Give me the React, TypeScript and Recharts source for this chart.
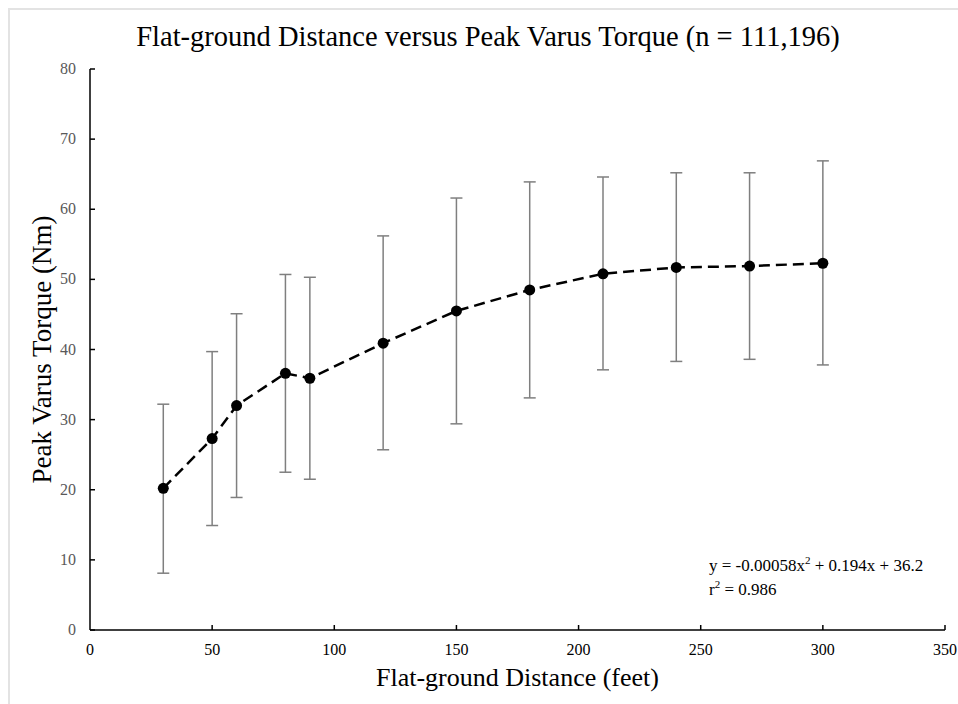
import React from "react";
import { ComposedChart, Line, XAxis, YAxis, ErrorBar, Label } from "recharts";

const distances = [30, 50, 60, 80, 90, 120, 150, 180, 210, 240, 270, 300];
const torqueMean = [20.2, 27.3, 32.0, 36.6, 35.9, 40.9, 45.5, 48.5, 50.8, 51.7, 51.9, 52.3];
const torqueLow = [8.1, 14.9, 18.9, 22.5, 21.5, 25.7, 29.4, 33.1, 37.1, 38.3, 38.6, 37.8];
const torqueHigh = [32.2, 39.7, 45.1, 50.7, 50.3, 56.2, 61.6, 63.9, 64.6, 65.2, 65.2, 66.9];
const xTicks = [0, 50, 100, 150, 200, 250, 300, 350];
const yTicks = [0, 10, 20, 30, 40, 50, 60, 70, 80];

const data = distances.map((d, i) => ({
  x: d,
  y: torqueMean[i],
  err: [torqueMean[i] - torqueLow[i], torqueHigh[i] - torqueMean[i]],
}));

const FONT = "'Liberation Serif', 'Times New Roman', serif";

const YTick = (props: any) => {
  const { x, y, payload } = props;
  return (
    <g>
      <line x1={x} x2={x + 5} y1={y} y2={y} stroke="#000" strokeWidth={1.5} />
      <text x={x - 14} y={y} dy={5} textAnchor="end" fontFamily={FONT} fontSize={16} fill="#595959">
        {payload.value}
      </text>
    </g>
  );
};

const XTick = (props: any) => {
  const { x, y, payload } = props;
  return (
    <g>
      {payload.value !== 0 && (
        <line x1={x} x2={x} y1={y} y2={y - 5} stroke="#000" strokeWidth={1.5} />
      )}
      <text x={x} y={y + 25} textAnchor="middle" fontFamily={FONT} fontSize={16} fill="#000">
        {payload.value}
      </text>
    </g>
  );
};

export default function App() {
  return (
    <div style={{ position: "absolute", left: 0, top: 0, width: 958, height: 704, background: "#fff", fontFamily: FONT }}>
      <div
        style={{
          position: "absolute",
          left: 8,
          top: 8,
          width: 950,
          height: 696,
          borderTop: "2px solid #e3e3e3",
          borderLeft: "2px solid #e3e3e3",
          boxSizing: "border-box",
        }}
      />
      <div
        style={{
          position: "absolute",
          left: 18,
          top: 21,
          width: 940,
          textAlign: "center",
          fontSize: 28.5,
          lineHeight: "32px",
          color: "#000",
        }}
      >
        Flat-ground Distance versus Peak Varus Torque (n = 111,196)
      </div>
      <div style={{ position: "absolute", left: 0, top: 0 }}>
        <ComposedChart
          width={958}
          height={704}
          data={data}
          margin={{ top: 69, right: 13, bottom: 44, left: 40 }}
        >
          <XAxis
            type="number"
            dataKey="x"
            domain={[0, 350]}
            ticks={xTicks}
            allowDataOverflow
            axisLine={{ stroke: "#000", strokeWidth: 1.5 }}
            tickLine={false}
            tickSize={0}
            tickMargin={0}
            tick={<XTick />}
            height={30}
          >
            <Label
              value="Flat-ground Distance (feet)"
              position="bottom"
              offset={8}
              style={{ fontFamily: FONT, fontSize: 26, fill: "#000" }}
            />
          </XAxis>
          <YAxis
            type="number"
            domain={[0, 80]}
            ticks={yTicks}
            allowDataOverflow
            axisLine={{ stroke: "#000", strokeWidth: 1.5 }}
            tickLine={false}
            tickSize={0}
            tickMargin={0}
            tick={<YTick />}
            width={50}
          >
            <Label
              value="Peak Varus Torque (Nm)"
              angle={-90}
              position="left"
              offset={-1}
              style={{ fontFamily: FONT, fontSize: 27, fill: "#000", textAnchor: "middle" }}
            />
          </YAxis>
          <Line
            type="linear"
            dataKey="y"
            stroke="#000"
            strokeWidth={2.5}
            strokeDasharray="11 6"
            dot={{ r: 5.5, fill: "#000", stroke: "#000", strokeWidth: 0 }}
            isAnimationActive={false}
          >
            <ErrorBar dataKey="err" width={6} stroke="#7f7f7f" strokeWidth={1.5} direction="y" />
          </Line>
        </ComposedChart>
      </div>
      <div style={{ position: "absolute", left: 709, top: 551, fontSize: 17, lineHeight: "19px", color: "#000" }}>
        <div>
          y = -0.00058x<sup style={{ fontSize: 11 }}>2</sup> + 0.194x + 36.2
        </div>
        <div>
          r<sup style={{ fontSize: 11 }}>2</sup> = 0.986
        </div>
      </div>
    </div>
  );
}
